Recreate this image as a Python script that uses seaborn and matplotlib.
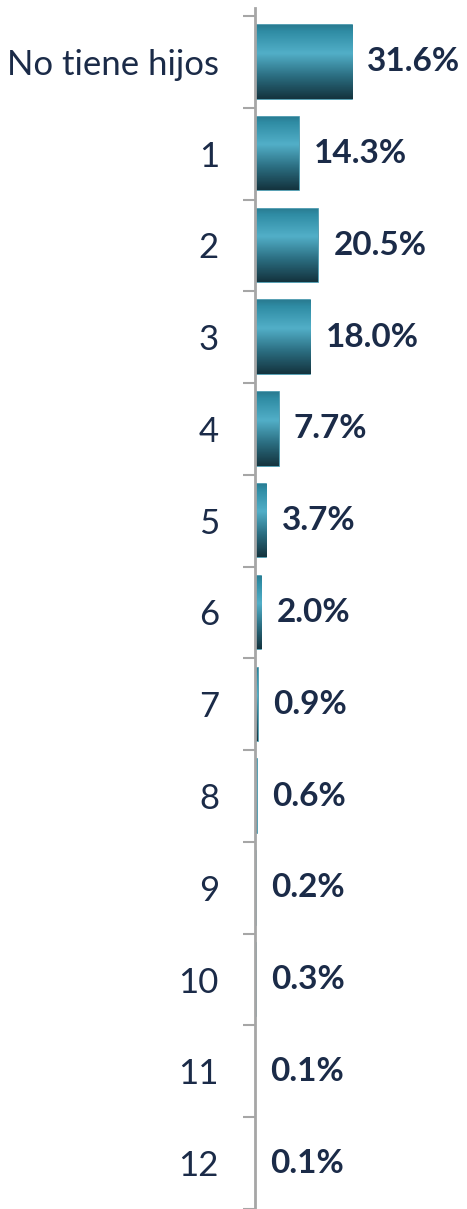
import numpy as np
import pandas as pd
import seaborn as sns
import matplotlib.pyplot as plt
from matplotlib.colors import LinearSegmentedColormap

# Data
categorias = ["No tiene hijos", "1", "2", "3", "4", "5", "6", "7", "8", "9", "10", "11", "12"]
porcentajes = [31.6, 14.3, 20.5, 18.0, 7.7, 3.7, 2.0, 0.9, 0.6, 0.2, 0.3, 0.1, 0.1]

df = pd.DataFrame({"hijos": categorias, "pct": porcentajes})

sns.set_style("white")
plt.rcParams['font.family'] = ['Lato', 'DejaVu Sans']

texto = "#1b2b48"
gris = "#a6a6a6"

fig = plt.figure(figsize=(4.67, 12.09), dpi=100)
ax = fig.add_axes([255 / 467, 0, 212 / 467, 1201 / 1209])

sns.barplot(data=df, x="pct", y="hijos", orient="h", color="#2f8aa2",
            width=0.8, ax=ax)

# cylinder-like shading on each bar
cmap = LinearSegmentedColormap.from_list(
    "cil", [(0.0, "#2a7c92"), (0.08, "#2f8ca4"), (0.38, "#52afc8"),
            (0.7, "#2a6c7f"), (1.0, "#14343f")])
grad = np.linspace(0, 1, 100).reshape(-1, 1)
for p in ax.patches:
    x0, y0 = p.get_x(), p.get_y()
    x1, y1 = x0 + p.get_width(), y0 + p.get_height()
    im = ax.imshow(grad, cmap=cmap, aspect="auto", origin="upper",
                   extent=(x0, x1, y1, y0), zorder=p.get_zorder() + 0.1)
    im.set_clip_path(p)
    p.set_edgecolor("#3a8fa5")
    p.set_linewidth(1.2)

# value labels
for i, v in enumerate(porcentajes):
    ax.annotate(f"{v:.1f}%", xy=(v, i), xytext=(11, 0), textcoords="offset points",
                ha="left", va="center", fontsize=24, fontweight="bold", color=texto)

ax.set_xlim(0, 69)
ax.set_ylim(12.467, -0.587)
ax.set_xlabel("")
ax.set_ylabel("")
ax.set_xticks([])

for s in ["top", "right", "bottom"]:
    ax.spines[s].set_visible(False)
ax.spines["left"].set_color(gris)
ax.spines["left"].set_linewidth(2)

ax.tick_params(axis="y", which="major", left=False, length=0, pad=26,
               labelsize=25, labelcolor=texto)
ax.set_yticks(np.arange(-0.5, len(categorias), 1), minor=True)
ax.tick_params(axis="y", which="minor", left=True, length=8.6, width=1.5, color=gris)

fig.savefig("out.png", dpi=100)
